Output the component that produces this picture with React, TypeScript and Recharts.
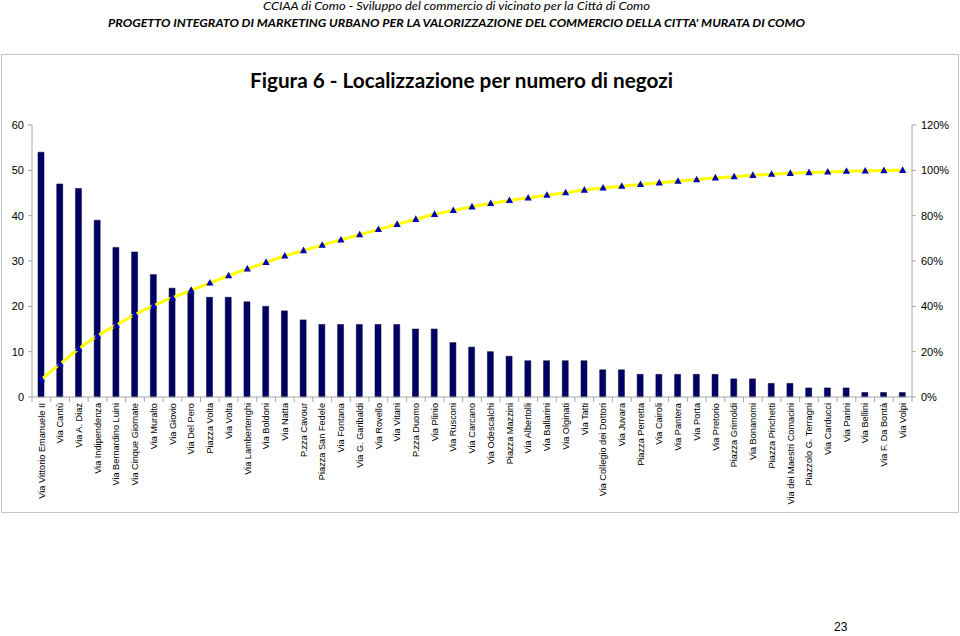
import React from 'react'
import {
  ComposedChart,
  Bar,
  Line,
  XAxis,
  YAxis,
} from 'recharts'

const streets = [
  'Via Vittorio Emanuele II',
  'Via Cantù',
  'Via A. Diaz',
  'Via Indipendenza',
  'Via Bernardino Luini',
  'Via Cinque Giornate',
  'Via Muralto',
  'Via Giovio',
  'Via Del Pero',
  'Piazza Volta',
  'Via Volta',
  'Via Lambertenghi',
  'Via Boldoni',
  'Via Natta',
  'P.zza Cavour',
  'Piazza San Fedele',
  'Via Fontana',
  'Via G. Garibaldi',
  'Via Rovello',
  'Via Vitani',
  'P.zza Duomo',
  'Via Plinio',
  'Via Rusconi',
  'Via Carcano',
  'Via Odescalchi',
  'Piazza Mazzini',
  'Via Albertolli',
  'Via Ballarini',
  'Via Olginati',
  'Via Tatti',
  'Via Collegio dei Dottori',
  'Via Juvara',
  'Piazza Perretta',
  'Via Cairoli',
  'Via Pantera',
  'Via Porta',
  'Via Pretorio',
  'Piazza Grimoldi',
  'Via Bonanomi',
  'Piazza Pinchetti',
  'Via dei Maestri Comacini',
  'Piazzolo G. Terragni',
  'Via Carducci',
  'Via Parini',
  'Via Bellini',
  'Via F. Da Bontà',
  'Via Volpi',
]

// numero di negozi per via
const shops = [
  54, 47, 46, 39, 33, 32, 27, 24, 23, 22, 22, 21, 20, 19, 17, 16, 16, 16, 16,
  16, 15, 15, 12, 11, 10, 9, 8, 8, 8, 8, 6, 6, 5, 5, 5, 5, 5, 4, 4, 3, 3, 2, 2,
  2, 1, 1, 1,
]

// percentuale cumulata (0-1)
const cumulative = [
  0.078, 0.146, 0.213, 0.27, 0.317, 0.364, 0.403, 0.438, 0.471, 0.503, 0.535,
  0.565, 0.594, 0.622, 0.646, 0.67, 0.693, 0.716, 0.739, 0.762, 0.784, 0.806,
  0.823, 0.839, 0.854, 0.867, 0.878, 0.89, 0.901, 0.913, 0.922, 0.93, 0.938,
  0.945, 0.952, 0.959, 0.967, 0.972, 0.978, 0.983, 0.987, 0.99, 0.993, 0.996,
  0.997, 0.999, 1,
]

const leftTicks = [0, 10, 20, 30, 40, 50, 60]
const rightTicks = [0, 0.2, 0.4, 0.6, 0.8, 1, 1.2]

const data = streets.map((name, i) => ({
  name,
  negozi: shops[i],
  cum: cumulative[i],
}))

const axisGray = '#a6a6a6'
const font = '"Liberation Sans", Arial, sans-serif'
const titleFont = 'Lato, "Noto Sans", sans-serif'

const StreetTick = (props: any) => {
  const { x, y, payload, index } = props
  const off = payload && payload.offset ? payload.offset : 9.37
  return (
    <g>
      <line x1={x - off} y1={y - 6} x2={x - off} y2={y - 1} stroke={axisGray} />
      {index === streets.length - 1 && (
        <line x1={x + off} y1={y - 6} x2={x + off} y2={y - 1} stroke={axisGray} />
      )}
      <text
        x={x}
        y={y}
        transform={`rotate(-90, ${x}, ${y})`}
        textAnchor="end"
        dy="0.35em"
        fontSize={9.2}
        fontFamily={font}
        fill="#000"
      >
        {payload.value}
      </text>
    </g>
  )
}

const Triangle = (props: any) => {
  const { cx, cy, index } = props
  if (cx == null || cy == null) return null
  return (
    <polygon
      key={`tri-${index}`}
      points={`${cx},${cy - 4} ${cx - 3.6},${cy + 2.6} ${cx + 3.6},${cy + 2.6}`}
      fill="#0000b4"
    />
  )
}

export default function App() {
  return (
    <div
      style={{
        position: 'absolute',
        left: 0,
        top: 0,
        width: 960,
        height: 636,
        background: '#fff',
      }}
    >
      <div
        style={{
          position: 'absolute',
          left: 1,
          top: 54,
          width: 956,
          height: 457,
          border: '1px solid #c4c4c4',
        }}
      />
      <div style={{ position: 'absolute', left: 0, top: 0 }}>
        <ComposedChart
          width={960}
          height={636}
          data={data}
          margin={{ top: 125, right: 1, left: 0, bottom: 124 }}
        >
          <XAxis
            dataKey="name"
            interval={0}
            height={115}
            tickSize={0}
            tickMargin={6}
            tick={<StreetTick />}
            stroke={axisGray}
          />
          <YAxis
            yAxisId="left"
            orientation="left"
            width={32}
            domain={[0, 60]}
            ticks={leftTicks}
            tickSize={4}
            tickMargin={4}
            stroke={axisGray}
            tick={{ fill: '#000', fontSize: 11, fontFamily: font }}
          />
          <YAxis
            yAxisId="right"
            orientation="right"
            width={47}
            domain={[0, 1.2]}
            ticks={rightTicks}
            tickFormatter={(v: number) => `${Math.round(v * 100)}%`}
            tickSize={4}
            tickMargin={5}
            stroke={axisGray}
            tick={{ fill: '#000', fontSize: 11, fontFamily: font }}
          />
          <Bar
            yAxisId="left"
            dataKey="negozi"
            fill="#000066"
            stroke="#000022"
            strokeWidth={0.5}
            barSize={6}
            isAnimationActive={false}
          />
          <Line
            yAxisId="right"
            dataKey="cum"
            type="monotone"
            stroke="#ffff00"
            strokeWidth={3}
            dot={<Triangle />}
            activeDot={false}
            isAnimationActive={false}
          />
        </ComposedChart>
      </div>
      <svg
        width={960}
        height={636}
        style={{ position: 'absolute', left: 0, top: 0, pointerEvents: 'none' }}
      >
        <text
          x={263}
          y={10}
          fontSize={11}
          fontStyle="italic"
          fontFamily={titleFont}
          textLength={387}
          lengthAdjust="spacingAndGlyphs"
          fill="#000"
        >
          CCIAA di Como - Sviluppo del commercio di vicinato per la Città di Como
        </text>
        <text
          x={108}
          y={27}
          fontSize={12}
          fontStyle="italic"
          fontWeight="bold"
          fontFamily={titleFont}
          textLength={697}
          lengthAdjust="spacingAndGlyphs"
          fill="#000"
        >
          PROGETTO INTEGRATO DI MARKETING URBANO PER LA VALORIZZAZIONE  DEL COMMERCIO DELLA CITTA' MURATA DI COMO
        </text>
        <text
          x={250}
          y={88}
          fontSize={21}
          fontWeight="bold"
          fontFamily={titleFont}
          textLength={423}
          lengthAdjust="spacingAndGlyphs"
          fill="#000"
        >
          Figura 6 - Localizzazione per numero di negozi
        </text>
        <text x={834} y={631} fontSize={12} fontFamily={font} fill="#000">
          23
        </text>
      </svg>
    </div>
  )
}
